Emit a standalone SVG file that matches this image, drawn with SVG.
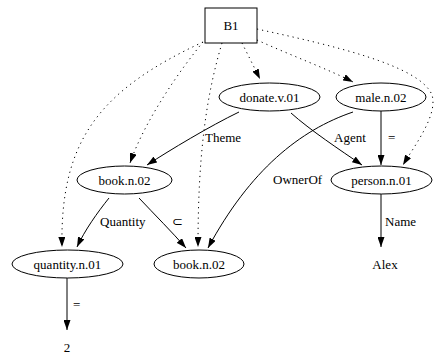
<svg xmlns="http://www.w3.org/2000/svg" width="435" height="356" viewBox="0 0 435 356" font-family="'Liberation Serif', 'Times New Roman', serif" font-size="13">
  <style>
    text { font-family: "Liberation Serif", "Times New Roman", serif; font-size: 13px; fill: #000; }
    .lbl { text-anchor: middle; }
    .node { fill: #fff; stroke: #000; stroke-width: 1; }
    .edge { fill: none; stroke: #000; stroke-width: 1; marker-end: url(#arrow); }
    .dot { stroke-dasharray: 1.2 4; }
  </style>
  <defs>
    <marker id="arrow" viewBox="0 0 10 7" refX="10" refY="3.5" markerWidth="10" markerHeight="7" markerUnits="userSpaceOnUse" orient="auto">
      <path d="M0,0 L10,3.5 L0,7 z" fill="#000"/>
    </marker>
  </defs>
  <rect width="435" height="356" fill="#fff"/>

  <g id="connectors">
    <!-- dotted links from the box -->
    <path class="edge dot" d="M242,43 C248,55 254,67 260,79"/>
    <path class="edge dot" d="M257,40 C290,55 330,70 353,82"/>
    <path class="edge dot" d="M257,29 C330,45 420,65 432,95 C438,115 415,145 403,165"/>
    <path class="edge dot" d="M203,42 C180,70 145,120 130,163"/>
    <path class="edge dot" d="M203,42 C100,90 60,140 62,247"/>
    <path class="edge dot" d="M222,43 C205,100 198,160 198,247"/>
    <!-- solid relations -->
    <path class="edge" d="M239,112 C210,126 170,150 147,165"/>
    <path class="edge" d="M291,113 C310,130 340,150 362,165"/>
    <path class="edge" d="M381,111 L381,165"/>
    <path class="edge" d="M353,112 C300,130 250,170 208,248"/>
    <path class="edge" d="M109,198 C97,213 85,230 77,247"/>
    <path class="edge" d="M139,198 C155,215 172,232 186,248"/>
    <path class="edge" d="M381,194 L381,247"/>
    <path class="edge" d="M67,278 L67,330"/>
    <!-- edge labels -->
    <text x="205" y="142">Theme</text>
    <text x="334" y="142">Agent</text>
    <text x="388" y="142">=</text>
    <text x="273" y="184">OwnerOf</text>
    <text x="100" y="226">Quantity</text>
    <text x="172" y="226">⊂</text>
    <text x="385" y="226">Name</text>
    <text x="73" y="309">=</text>
  </g>

  <g id="B1">
    <rect class="node" x="205" y="8" width="52" height="35"/>
    <text class="lbl" x="231" y="30">B1</text>
  </g>
  <g id="donate">
    <ellipse class="node" cx="269.5" cy="97" rx="50.5" ry="14"/>
    <text class="lbl" x="269.5" y="101.5">donate.v.01</text>
  </g>
  <g id="male">
    <ellipse class="node" cx="381" cy="97" rx="45" ry="14"/>
    <text class="lbl" x="381" y="101.5">male.n.02</text>
  </g>
  <g id="book_top">
    <ellipse class="node" cx="124.5" cy="180" rx="47.5" ry="14"/>
    <text class="lbl" x="124.5" y="184.5">book.n.02</text>
  </g>
  <g id="person">
    <ellipse class="node" cx="381.5" cy="180" rx="50.5" ry="14"/>
    <text class="lbl" x="381.5" y="184.5">person.n.01</text>
  </g>
  <g id="quantity">
    <ellipse class="node" cx="67.5" cy="264" rx="55.5" ry="14"/>
    <text class="lbl" x="67.5" y="268.5">quantity.n.01</text>
  </g>
  <g id="book_bottom">
    <ellipse class="node" cx="199" cy="264" rx="45" ry="14"/>
    <text class="lbl" x="199" y="268.5">book.n.02</text>
  </g>
  <g id="alex">
    <text class="lbl" x="385" y="268.5">Alex</text>
  </g>
  <g id="two">
    <text class="lbl" x="67" y="351.5">2</text>
  </g>
</svg>
